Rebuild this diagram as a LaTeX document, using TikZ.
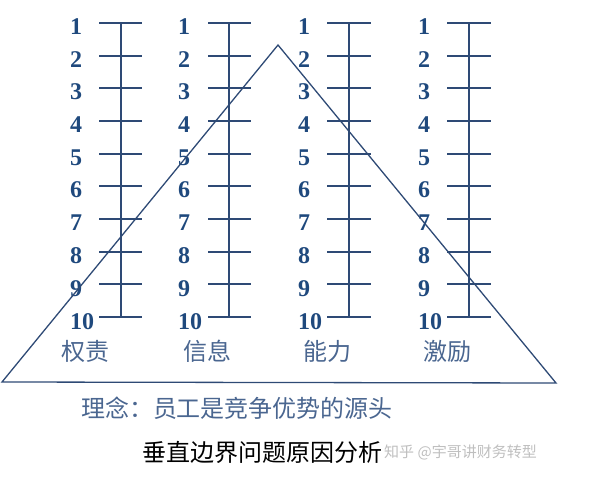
\documentclass[tikz,border=0pt]{standalone}
\usepackage{fontspec}
\setmainfont{Liberation Serif}
\newfontfamily\cjk{Noto Sans CJK SC}
\definecolor{numblue}{HTML}{1F497D}
\definecolor{lineblue}{HTML}{2E4A75}
\definecolor{labblue}{HTML}{4A6690}

\begin{document}
\begin{tikzpicture}[x=1pt,y=-1pt,
  num/.style={anchor=base west,inner sep=0,text=numblue,font=\fontsize{24}{24}\selectfont\bfseries},
  lab/.style={text=labblue,font=\cjk\fontsize{24}{24}\selectfont},
  rung/.style={draw=lineblue,line width=1.3pt}]
  \useasboundingbox (0,0) rectangle (600,481);

  % four scales 1..10
  \foreach \c/\xn/\xa/\xv/\xb in {1/70/99/121/142, 2/178/208/229/251, 3/298/327/349/371, 4/418/447/469/491}{
    \foreach \k in {1,...,10}{
      \pgfmathsetmacro\yk{round(23+(\k-1)*32.67)}
      \node (n\c-\k) at (\xn,\yk+12) [num]{\k};
      \draw[rung] (\xa,\yk) -- (\xb,\yk);
    }
    \draw[rung] (\xv,23) -- (\xv,317);
  }

  \node (quanze) at (85,351) [lab]{权责};
  \node (xinxi) at (207,351) [lab]{信息};
  \node (nengli) at (327,351) [lab]{能力};
  \node (jili) at (447,351) [lab]{激励};

  \coordinate (top) at (278,45);
  \coordinate (bl) at (2,382);
  \coordinate (br) at (556,383);
  \draw[rung] (top) -- (br) -- (bl) -- cycle;

  \node (idea) at (237,408) [lab]{理念：员工是竞争优势的源头};
  \node (title) at (262,452) [font=\cjk\fontsize{24}{24}\selectfont]{垂直边界问题原因分析};
  \node (mark) at (384,452) [anchor=west,inner sep=0,text=black!25,font=\cjk\fontsize{15}{15}\selectfont]{知乎 @宇哥讲财务转型};

\end{tikzpicture}
\end{document}
